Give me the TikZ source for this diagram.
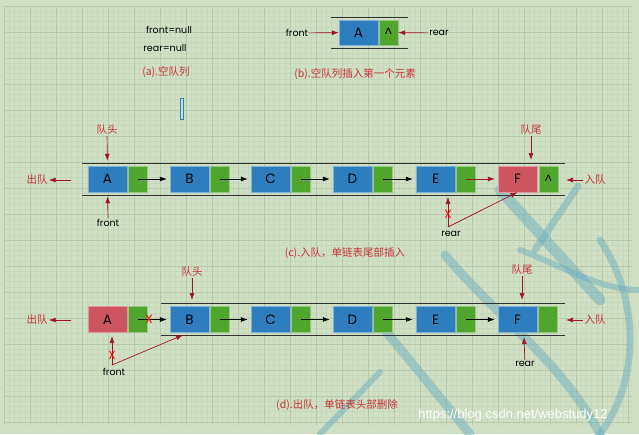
\documentclass[tikz,border=0pt]{standalone}
\usepackage{fontspec}
\setmainfont{Poppins}
\newfontfamily\cjk{Noto Sans CJK SC}
\newfontfamily\wmfont{Liberation Sans}
\usetikzlibrary{arrows.meta}
\definecolor{bgc}{RGB}{208,224,197}
\definecolor{gridminor}{RGB}{198,215,187}
\definecolor{gridmajor}{RGB}{182,201,171}
\definecolor{qblue}{RGB}{46,125,190}
\definecolor{qgreen}{RGB}{80,166,44}
\definecolor{qred}{RGB}{205,85,95}
\definecolor{darr}{RGB}{160,20,40}
\definecolor{lred}{RGB}{200,50,55}
\definecolor{wmteal}{RGB}{100,170,192}
\begin{document}
\begin{tikzpicture}[x=1pt,y=-1pt,
  dbox/.style={fill=qblue,draw=qblue!60!white,line width=0.4pt,minimum width=39pt,minimum height=26pt,inner sep=0pt,font=\fontsize{13.5}{13.5}\selectfont},
  rbox/.style={dbox,fill=qred,draw=qred!60!white},
  pbox/.style={fill=qgreen,draw=qgreen!60!white,line width=0.4pt,minimum width=19pt,minimum height=26pt,inner sep=0pt,font=\fontsize{12}{12}\selectfont},
  lbl/.style={font=\fontsize{9.5}{9.5}\selectfont,inner sep=1pt},
  rlbl/.style={font=\fontsize{10.5}{10.5}\selectfont\cjk,text=lred,inner sep=1pt},
  rail/.style={line width=1pt,black!80},
  barr/.style={-{Latex[length=7pt,width=5pt]},line width=0.7pt,black},
  rarr/.style={-{Latex[length=7pt,width=5pt]},line width=0.7pt,darr},
  xmark/.style={font=\fontsize{12}{12}\selectfont,text=red,inner sep=0pt}
]
\useasboundingbox (0,0) rectangle (639,434);
\fill[bgc] (0,0) rectangle (639,434);
% grid
\foreach \i in {0,...,120} {\draw[gridminor,line width=0.3pt] ({4+5.2*\i},6) -- ({4+5.2*\i},425);}
\foreach \i in {0,...,80} {\draw[gridminor,line width=0.3pt] (4,{6+5.2*\i}) -- (632,{6+5.2*\i});}
\foreach \i in {0,...,24} {\draw[gridmajor,line width=0.4pt] ({4+26*\i},6) -- ({4+26*\i},425);}
\foreach \i in {0,...,16} {\draw[gridmajor,line width=0.4pt] (4,{6+26*\i}) -- (632,{6+26*\i});}
% watermark strokes
\begin{scope}[wmteal,opacity=0.45,line cap=round]
  \draw[line width=11pt] (500,190) -- (600,300);
  \draw[line width=7pt] (578,186) -- (535,250);
  \draw[line width=9pt] (445,255) .. controls (500,320) and (560,360) .. (600,434);
  \draw[line width=7pt] (600,240) .. controls (640,300) and (640,380) .. (600,434);
  \draw[line width=9pt] (375,318) -- (470,434);
  \draw[line width=6pt] (320,434) -- (380,372);
  \draw[line width=6pt] (520,250) .. controls (560,265) and (600,290) .. (639,290);
\end{scope}
% (a)
\node[lbl] (fnull) at (169,30) {front=null};
\node[lbl] (rnull) at (165,48) {rear=null};
\node[rlbl] (capa) at (166,72) {(a).空队列};
\node[draw=qblue,fill=qblue!25!white,line width=0.8pt,minimum width=3pt,minimum height=21pt,inner sep=0pt] (cursor) at (181.5,109) {};
% (b)
\draw[rail] (331,17) -- (408,17);
\draw[rail] (331,48) -- (408,48);
\node[dbox,minimum height=25pt] (bA) at (358.5,32.5) {A};
\node[pbox,minimum height=25pt] (bP) at (388.5,32.5) {\textasciicircum};
\node[lbl] (bfront) at (297,33) {front};
\node[lbl] (brear) at (439,33) {rear};
\draw[rarr] (bfront) -- (bA);
\draw[rarr] (brear) -- (bP);
\node[rlbl] (capb) at (355,74) {(b).空队列插入第一个元素};
% (c)
\draw[rail] (82,163) -- (565,163);
\draw[rail] (82,195) -- (565,195);
\foreach \n/\x in {A/88,B/170,C/251,D/333,E/416} {
  \node[dbox] (c\n) at (\x+19.5,179) {\n};
  \node[pbox] (cp\n) at (\x+49.5,179) {};
}
\node[rbox] (cF) at (517.5,179) {F};
\node[pbox] (cpF) at (548.5,179) {\textasciicircum};
\draw[barr,shorten >=3pt] (cpA.center) -- (cB);
\draw[barr,shorten >=3pt] (cpB.center) -- (cC);
\draw[barr,shorten >=3pt] (cpC.center) -- (cD);
\draw[barr,shorten >=3pt] (cpD.center) -- (cE);
\draw[rarr,shorten >=3pt] (cpE.center) -- (cF);
\node[rlbl] (chead) at (107,130) {队头};
\draw[rarr,shorten >=5pt] (chead) -- (cA);
\node[rlbl] (cout) at (37,180) {出队};
\coordinate (coutS) at (71,180);
\draw[rarr] (coutS) -- (cout);
\node[lbl] (cfront) at (108,223) {front};
\draw[rarr,shorten >=4pt] (cfront) -- (cA);
\node[rlbl] (ctail) at (531,130) {队尾};
\coordinate (ctailE) at (531,160);
\draw[rarr] (ctail) -- (ctailE);
\node[rlbl] (cin) at (595,180) {入队};
\coordinate (cinE) at (566,180);
\draw[rarr] (cin) -- (cinE);
\node[lbl] (crear) at (451,234) {rear};
\coordinate (crearS) at (448,227);
\coordinate (crearE) at (448,197);
\draw[rarr] (crearS) -- (crearE);
\node[xmark] (cx) at (448,214) {X};
\draw[rarr] (crearS) -- (cF.south);
\node[rlbl] (capc) at (345,253) {(c).入队，单链表尾部插入};
% (d)
\draw[rail] (161,303) -- (565,303);
\draw[rail] (161,335) -- (565,335);
\node[rbox] (dA) at (107.5,319.5) {A};
\node[pbox] (dpA) at (137.5,319.5) {};
\foreach \n/\x in {B/170,C/251,D/333,E/416,F/498} {
  \node[dbox] (d\n) at (\x+19.5,319.5) {\n};
  \node[pbox] (dp\n) at (\x+49.5,319.5) {\ifx\n F\textasciicircum\fi};
}
\draw[barr,shorten >=3pt] (dpA.center) -- (dB);
\node[xmark] (dx1) at (149,319) {X};
\draw[barr,shorten >=3pt] (dpB.center) -- (dC);
\draw[barr,shorten >=3pt] (dpC.center) -- (dD);
\draw[barr,shorten >=3pt] (dpD.center) -- (dE);
\draw[barr,shorten >=3pt] (dpE.center) -- (dF);
\node[rlbl] (dhead) at (192,272) {队头};
\coordinate (dheadE) at (192,300);
\draw[rarr] (dhead) -- (dheadE);
\node[rlbl] (dout) at (37,320) {出队};
\coordinate (doutS) at (71,320);
\draw[rarr] (doutS) -- (dout);
\node[lbl] (dfront) at (114,372) {front};
\coordinate (dfrontS) at (112,365);
\coordinate (dfrontE) at (112,336);
\draw[rarr] (dfrontS) -- (dfrontE);
\node[xmark] (dx2) at (112,355) {X};
\coordinate (dBfoot) at (183,335);
\draw[rarr] (dfrontS) -- (dBfoot);
\node[rlbl] (dtail) at (522,270) {队尾};
\coordinate (dtailE) at (522,300);
\draw[rarr] (dtail) -- (dtailE);
\node[rlbl] (din) at (595,320) {入队};
\coordinate (dinE) at (566,320);
\draw[rarr] (din) -- (dinE);
\node[lbl] (drear) at (525,364) {rear};
\coordinate (drearE) at (524,337);
\draw[rarr] (drear) -- (drearE);
\node[rlbl] (capd) at (337,405) {(d).出队，单链表头部删除};
\node[font=\fontsize{13}{13}\selectfont\wmfont,text=white,inner sep=0pt] (wm) at (513,415) {https://blog.csdn.net/webstudy12};
\end{tikzpicture}
\end{document}
